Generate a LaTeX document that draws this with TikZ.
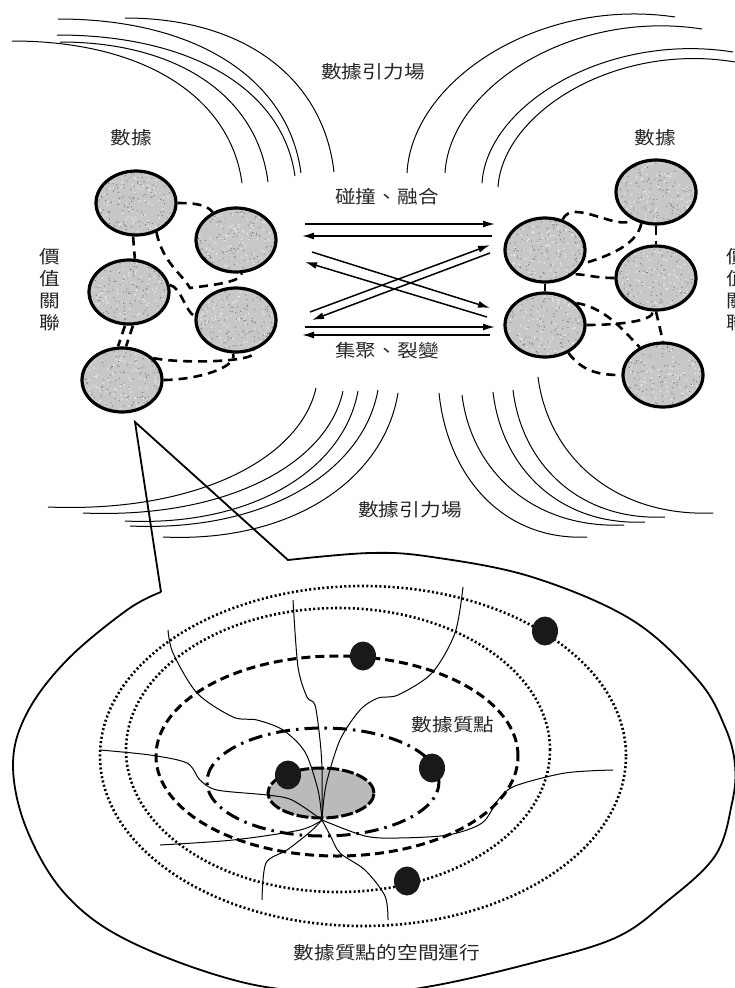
\documentclass[tikz,border=0pt]{standalone}
\usepackage{fontspec}
\newfontfamily\cjkfont[FakeStretch=1.15]{Noto Sans CJK TC}
\usetikzlibrary{arrows.meta,shapes.geometric,calc}
\tikzset{>={Latex[width=7pt,length=12pt]}}

\tikzset{
  ball/.style={ellipse, draw, line width=3.2pt, fill=black!22,
    minimum width=80pt, minimum height=64pt, inner sep=0pt,
    path picture={
      \foreach \i in {1,...,110}
        \fill[white!90!black] ($(path picture bounding box.center)+({rand*41pt},{rand*33pt})$) circle (1pt);
      \foreach \i in {1,...,150}
        \fill[black!55] ($(path picture bounding box.center)+({rand*41pt},{rand*33pt})$) circle (0.6pt);
    }},
  link/.style={line width=2.6pt, dash pattern=on 9pt off 6pt},
  txt/.style={font=\cjkfont\fontsize{18}{22}\selectfont, text=black!85, inner sep=0pt, align=center},
  flow/.style={line width=1.5pt},
  fieldline/.style={line width=1pt},
  orbitdots/.style={line width=2.6pt, dash pattern=on 2pt off 2.4pt},
  orbitdash/.style={line width=3pt, dash pattern=on 9pt off 5pt},
  orbitdashdot/.style={line width=3pt, dash pattern=on 14pt off 6pt on 2.5pt off 6pt},
  core/.style={ellipse, draw, fill=black!27, line width=3pt, dash pattern=on 12pt off 3pt,
    minimum width=106pt, minimum height=50pt, inner sep=0pt},
  particle/.style={ellipse, fill=black!90, minimum width=26pt, minimum height=29pt, inner sep=0pt}
}

\begin{document}
\begin{tikzpicture}[x=1pt, y=-1pt]
  \pgfmathsetseed{42}
  \useasboundingbox (0,0) rectangle (735,988);
  \clip (0,0) rectangle (735,988);

  % gravity field, upper left and upper right
  \foreach \xa/\ya/\xb/\yb in {12/41/242/183, 60/42/268/182, 57/35/295/176, 58/19/301/173, 125/18/334/172}
    \draw[fieldline] (\xa,\ya) .. controls +({0.58*(\xb-\xa)},0) and +({-0.05*(\xb-\xa)},{-0.6*(\yb-\ya)}) .. (\xb,\yb);
  \foreach \xa/\ya/\xb/\yb in {407/173/675/17, 445/173/702/29, 482/183/733/52, 498/187/735/62}
    \draw[fieldline] (\xa,\ya) .. controls +(5,{-0.6*(\ya-\yb)}) and +({-0.5*(\xb-\xa)},-20) .. (\xb,\yb);

  % gravity field, lower left and lower right
  \foreach \xa/\ya/\xb/\yb in {316/388/48/507, 343/391/83/513, 358/391/125/521, 378/390/130/526, 398/393/163/537}
    \draw[fieldline] (\xa,\ya) .. controls +({-0.06*(\xa-\xb)},{0.6*(\yb-\ya)}) and +({0.55*(\xa-\xb)},6) .. (\xb,\yb);
  \foreach \xa/\ya/\xb/\yb in {439/393/587/537, 462/395/624/525, 493/392/645/522, 513/390/665/517, 538/377/713/513}
    \draw[fieldline] (\xa,\ya) .. controls +({0.06*(\xb-\xa)},{0.6*(\yb-\ya)}) and +({-0.55*(\xb-\xa)},4) .. (\xb,\yb);

  \node[txt] (fieldtop) at (373,72) {數據引力場};
  \node[txt] (fieldbot) at (410,510) {數據引力場};

  % left cluster
  \node[txt] (dataL) at (131,138) {數據};
  \node[txt] (valL) at (50,290) {價\\值\\關\\聯};
  \node[ball] (L1) at (136,203) {};
  \node[ball] (L2) at (236,240) {};
  \node[ball] (L3) at (129,292) {};
  \node[ball] (L4) at (236,320) {};
  \node[ball] (L5) at (122,380) {};

  \coordinate (k1) at (190,288);
  \draw[link] (L1.east) .. controls +(15,0) and +(-6,-8) .. (L2.130);
  \draw[link] (L1.265) -- (L3.80);
  \draw[link] (L1.-55) .. controls +(6,30) and +(-8,-14) .. (k1) .. controls +(12,-2) and +(0,10) .. (L2.-80);
  \draw[link] (L3.10) .. controls +(12,3) and +(-10,-6) .. (L4.175);
  \draw[link] ([xshift=-4pt]L3.south) -- ([xshift=-4pt]L5.north);
  \draw[link] ([xshift=4pt]L3.south) -- ([xshift=4pt]L5.north);
  \draw[link] (L5.east) .. controls +(30,0) and +(5,15) .. (L4.-95);
  \draw[link] (L5.35) .. controls +(25,6) and +(10,12) .. (L4.-60);

  % right cluster
  \node[txt] (dataR) at (655,138) {數據};
  \node[txt] (valR) at (737,290) {價\\值\\關\\聯};
  \node[ball] (R1) at (656,192) {};
  \node[ball] (R2) at (545,250) {};
  \node[ball] (R3) at (656,278) {};
  \node[ball] (R4) at (545,325) {};
  \node[ball] (R5) at (663,375) {};

  \draw[link] (R2.60) .. controls +(10,-22) and +(-15,12) .. (R1.-130);
  \draw[link] (R1.-115) .. controls +(-5,25) and +(15,-5) .. (R2.-20);
  \draw[line width=2.6pt] (R2.south) -- (R4.north);
  \draw[link] (R1.south) -- (R3.north);
  \draw[link] (R3.west) .. controls +(-20,0) and +(12,0) .. (R2.-40);
  \draw[link] (R4.east) .. controls +(30,0) and +(0,10) .. (R3.-95);
  \draw[link] (R4.35) .. controls +(30,5) and +(-15,-15) .. (R5.130);
  \draw[link] (R3.south) -- (R5.north);
  \draw[link] (R4.-50) .. controls +(15,20) and +(-20,0) .. (R5.west);

  % exchange between the clusters
  \node[txt] (meet) at (387,197) {碰撞、融合};
  \node[txt] (split) at (387,351) {集聚、裂變};
  \foreach \n/\xa/\ya/\xb/\yb in {1/305/224/495/224, 2/492/236/302/236, 3/312/252/490/308, 4/487/317/305/262,
                                   5/310/312/490/245, 6/490/253/312/320, 7/305/327/495/327, 8/490/335/302/335} {
    \coordinate (s\n) at (\xa,\ya);
    \coordinate (t\n) at (\xb,\yb);
    \draw[flow,->] (s\n) -- (t\n);
  }

  % zoomed bubble
  \draw[line width=1.8pt, line join=miter] (161,592) -- (135,422) -- (288,560) -- plot[smooth, tension=0.6] coordinates {
    (288,560) (370,553) (432,557) (532,577) (632,620) (698,680) (725,727) (735,765) (732,803) (715,856)
    (665,903) (615,938) (532,963) (432,986) (360,993) (250,984) (133,943) (67,896) (27,830) (13,765)
    (27,713) (67,660) (127,610) (161,592)};

  % orbits
  \draw[orbitdots] (363,756) ellipse [x radius=263pt, y radius=170pt];
  \draw[orbitdots] (338,750) ellipse [x radius=212pt, y radius=142pt];
  \draw[orbitdash] (337,756) ellipse [x radius=181pt, y radius=100pt];
  \draw[orbitdashdot] (323,782) ellipse [x radius=116pt, y radius=54pt];
  \node[core] (core) at (321,793) {};

  % field lines through the core
  \coordinate (neck) at (322,820);
  \draw[fieldline] plot[smooth] coordinates {(168,630) (173,653) (197,693) (233,717) (257,720) (283,730) (305,752) (318,790) (neck)};
  \draw[fieldline] plot[smooth] coordinates {(293,600) (298,667) (307,697) (315,705) (320,740) (322,770) (neck)};
  \draw[fieldline] plot[smooth] coordinates {(463,587) (455,633) (432,673) (398,695) (378,698) (360,710) (340,740) (326,785) (neck)};
  \draw[fieldline] plot[smooth] coordinates {(100,750) (150,755) (187,763) (200,780) (217,790) (267,795) (292,800) (neck)};
  \draw[fieldline] plot[smooth] coordinates {(613,770) (565,773) (515,786) (498,800) (482,823) (448,835) (398,838) (365,836) (neck)};
  \draw[fieldline] plot[smooth] coordinates {(160,845) (233,840) (300,830) (neck)};
  \draw[fieldline] plot[smooth] coordinates {(262,900) (266,863) (287,850) (310,832) (neck)};
  \draw[fieldline] plot[smooth] coordinates {(388,920) (385,896) (365,870) (340,853) (330,835) (neck)};

  % data particles
  \node[particle] (p1) at (363,656) {};
  \node[particle] (p2) at (545,631) {};
  \node[particle] (p3) at (432,768) {};
  \node[particle] (p4) at (288,775) {};
  \node[particle] (p5) at (407,881) {};

  \node[txt] (mass) at (453,725) {數據質點};
  \node[txt] (motion) at (387,953) {數據質點的空間運行};
\end{tikzpicture}
\end{document}
